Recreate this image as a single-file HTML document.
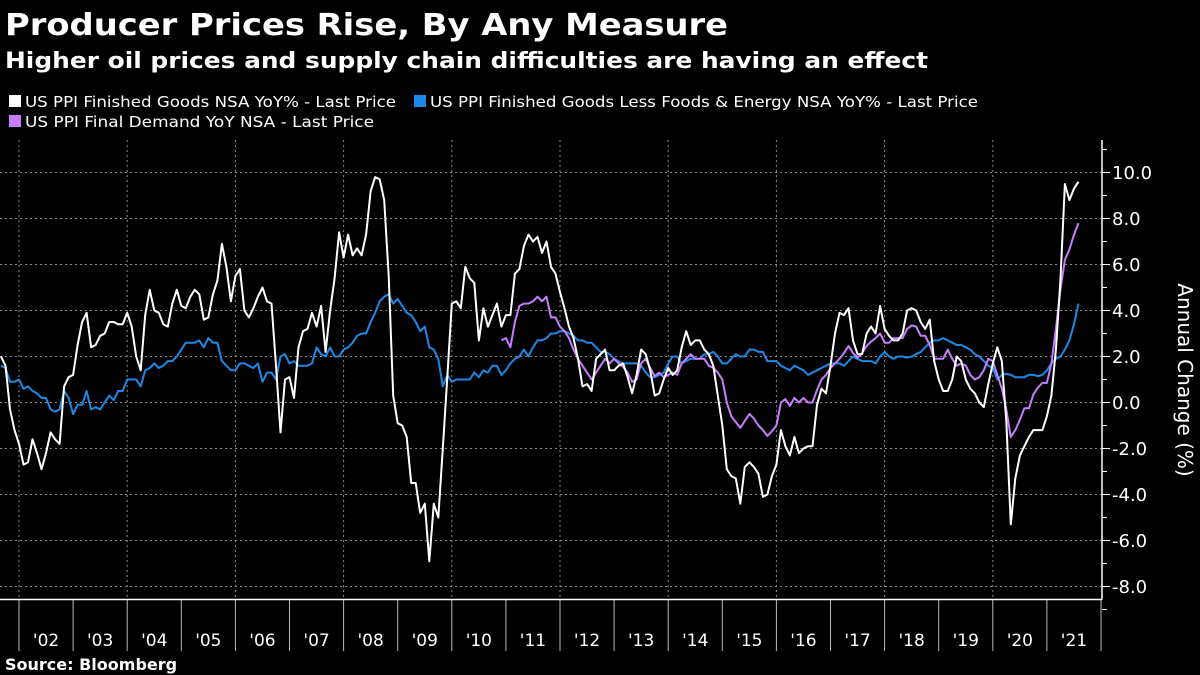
<!DOCTYPE html>
<html><head><meta charset="utf-8"><style>
html,body{margin:0;padding:0;background:#000;}
svg{display:block;font-family:"DejaVu Sans","Liberation Sans",sans-serif;}
</style></head><body>
<svg id="chart" width="1200" height="675" viewBox="0 0 1200 675" xmlns="http://www.w3.org/2000/svg">
<rect width="1200" height="675" fill="#000"/>
<text x="5" y="35" fill="#fff" font-weight="bold" font-size="30" textLength="723" lengthAdjust="spacingAndGlyphs">Producer Prices Rise, By Any Measure</text>
<text x="5" y="68" fill="#fff" font-weight="bold" font-size="22" textLength="923" lengthAdjust="spacingAndGlyphs">Higher oil prices and supply chain difficulties are having an effect</text>
<g>
<g><rect x="9" y="95" width="12" height="12" fill="#fff"/><text x="25" y="107" fill="#fff" font-size="15.5" textLength="371" lengthAdjust="spacingAndGlyphs">US PPI Finished Goods NSA YoY% - Last Price</text></g>
<g><rect x="414" y="95" width="12" height="12" fill="#1e88e5"/><text x="430" y="107" fill="#fff" font-size="15.5" textLength="548" lengthAdjust="spacingAndGlyphs">US PPI Finished Goods Less Foods &amp; Energy NSA YoY% - Last Price</text></g>
<g><rect x="9" y="115" width="12" height="12" fill="#c77dff"/><text x="25" y="127" fill="#fff" font-size="15.5" textLength="349" lengthAdjust="spacingAndGlyphs">US PPI Final Demand YoY NSA - Last Price</text></g>
</g>
<g id="grid"></g>
<g id="axes"></g>
<g id="series"></g>
<text transform="translate(1178,380) rotate(90)" fill="#fff" font-size="20" text-anchor="middle">Annual Change (%)</text>
<text x="5" y="670" fill="#fff" font-weight="bold" font-size="16">Source: Bloomberg</text>
</svg>
<script>
const startYear = 2001, startMonth = 8; // Aug 2001
const finishedGoods = [
2.0,1.6,-0.3,-1.2,-1.8,
-2.7,-2.6,-1.6,-2.2,-2.9,-2.2,-1.3,-1.6,-1.8,0.7,1.1,1.2,
2.5,3.5,3.9,2.4,2.5,2.9,3.0,3.5,3.5,3.4,3.4,3.9,
3.3,2.0,1.4,3.8,4.9,4.0,3.9,3.4,3.3,4.3,4.9,4.2,
4.1,4.6,4.9,4.7,3.6,3.7,4.7,5.3,6.9,5.9,4.4,5.5,
5.8,4.0,3.7,4.1,4.6,5.0,4.4,4.3,1.6,-1.3,1.0,1.1,
0.2,2.4,3.1,3.2,3.9,3.3,4.2,2.2,4.0,5.4,7.4,6.3,
7.3,6.4,6.7,6.4,7.3,9.2,9.8,9.7,8.8,5.5,0.3,-0.9,
-1.0,-1.5,-3.5,-3.5,-4.8,-4.4,-6.9,-4.4,-5.0,-2.0,1.1,4.3,
4.4,4.1,5.9,5.4,5.2,2.7,4.1,3.3,3.8,4.3,3.3,3.8,
3.8,5.6,5.8,6.8,7.3,7.0,7.2,6.5,7.0,5.9,5.6,4.8,
4.1,3.3,2.8,1.9,0.7,0.8,0.5,1.9,2.1,2.3,1.4,1.4,
1.6,1.7,1.1,0.4,1.2,2.3,2.1,1.4,0.3,0.4,1.0,1.5,
1.2,1.4,2.4,3.1,2.5,2.7,2.7,2.3,2.1,1.6,0.3,-1.0,
-2.9,-3.2,-3.3,-4.4,-2.8,-2.6,-2.8,-3.1,-4.1,-4.0,-3.2,-2.7,
-1.2,-1.9,-2.3,-1.5,-2.2,-2.0,-1.9,-1.9,-0.1,0.6,0.4,1.6,
3.0,3.9,3.8,4.1,2.7,2.1,2.1,3.0,3.3,3.0,4.2,3.2,
2.9,2.7,2.7,3.0,4.0,4.1,4.0,3.5,3.2,3.6,1.8,1.0,
0.5,0.5,1.0,2.0,1.8,1.0,0.6,0.4,0.0,-0.2,0.8,1.7,
2.4,1.8,-0.8,-5.3,-3.3,-2.3,-1.9,-1.5,-1.2,-1.2,-1.2,-0.6,
0.3,2.3,5.3,9.5,8.8,9.3,9.6];
const coreFinishedGoods = [
1.6,1.5,0.9,0.9,1.0,
0.6,0.7,0.5,0.4,0.2,0.2,-0.3,-0.4,-0.3,0.5,0.2,-0.5,
-0.1,-0.1,0.5,-0.3,-0.2,-0.3,0.0,0.3,0.1,0.5,0.5,1.0,
1.0,1.0,0.7,1.4,1.5,1.7,1.5,1.6,1.8,1.8,2.0,2.3,
2.6,2.6,2.6,2.7,2.4,2.8,2.6,2.6,1.8,1.6,1.4,1.4,
1.7,1.7,1.6,1.5,1.7,0.9,1.3,1.3,1.0,2.0,2.1,1.7,
1.8,1.6,1.6,1.6,1.7,2.4,2.1,2.0,2.4,2.0,2.0,2.3,
2.4,2.6,2.9,3.0,3.0,3.5,3.9,4.4,4.6,4.7,4.3,4.5,
4.2,3.9,3.8,3.5,3.1,3.3,2.4,2.3,1.9,0.7,1.2,0.9,
1.0,1.0,1.0,1.0,1.3,1.1,1.4,1.3,1.6,1.6,1.2,1.4,
1.7,1.9,2.0,2.3,2.0,2.4,2.7,2.7,2.8,3.0,3.0,3.1,
3.1,3.0,2.9,2.7,2.7,2.6,2.6,2.4,2.2,2.2,2.1,1.9,
1.8,1.7,1.7,1.7,1.7,1.6,1.3,1.1,1.1,1.2,1.3,1.7,
2.0,2.0,1.7,1.8,1.9,1.9,1.9,2.1,2.1,2.2,2.0,1.7,
1.7,1.9,2.1,2.0,2.0,2.3,2.3,2.2,2.2,1.8,1.8,1.8,
1.6,1.5,1.4,1.6,1.5,1.4,1.2,1.3,1.4,1.5,1.6,1.7,
1.7,1.7,1.6,1.8,2.0,1.9,1.8,1.8,1.8,1.7,2.0,2.2,
2.0,1.9,2.0,2.0,1.95,2.0,2.1,2.2,2.4,2.6,2.7,2.7,
2.8,2.7,2.6,2.5,2.5,2.4,2.3,2.1,2.0,1.8,1.6,1.5,
1.0,1.2,1.25,1.2,1.1,1.1,1.1,1.2,1.2,1.15,1.2,1.4,
1.7,1.9,2.0,2.3,2.7,3.4,4.3];
const finalDemandStartYear = 2010, finalDemandStartMonth = 11;
const finalDemand = [
2.7,2.8,
2.4,3.5,4.2,4.3,4.3,4.4,4.6,4.4,4.6,3.7,3.7,3.3,
3.1,2.8,2.3,1.9,1.6,1.3,1.0,1.3,1.6,1.9,1.7,1.9,
1.7,1.55,1.3,0.9,1.0,1.7,1.9,1.5,1.15,1.3,1.1,1.2,
1.3,1.2,1.7,1.9,2.1,1.9,1.9,1.9,1.6,1.5,1.3,1.0,
0.0,-0.6,-0.85,-1.1,-0.8,-0.5,-0.7,-1.0,-1.2,-1.45,-1.25,-1.0,
0.0,0.15,-0.15,0.2,0.0,0.2,0.0,0.0,0.55,1.0,1.2,1.5,
1.7,1.9,2.15,2.45,2.15,1.95,2.15,2.45,2.65,2.8,3.0,2.6,
2.6,2.8,2.8,2.8,3.2,3.35,3.3,2.9,2.9,2.5,1.9,1.9,
1.9,2.3,1.9,1.6,1.7,1.6,1.2,1.0,1.1,1.4,1.9,1.8,
1.2,0.6,-0.3,-1.5,-1.2,-0.75,-0.25,-0.25,0.35,0.65,0.85,0.85,
1.7,3.2,4.9,6.2,6.65,7.3,7.8];
const yTicks = [10,8,6,4,2,0,-2,-4,-6,-8];
const yearLabels = ["'02","'03","'04","'05","'06","'07","'08","'09","'10","'11","'12","'13","'14","'15","'16","'17","'18","'19","'20","'21"];
const firstLabelYear = 2002;

const NS = "http://www.w3.org/2000/svg";
const X0 = 19, PXY = 54.1, AXIS_X = 1102, PLOT_TOP = 140, AXIS_Y = 599.5;
function xScale(t){ return X0 + (t - 2002) * PXY; }
function yScale(v){ return 402.5 - v * 23.0; }
function monthT(y, m){ return y + m / 12; } // month-end
function mk(tag, attrs, parent){ const e = document.createElementNS(NS, tag); for (const k in attrs) e.setAttribute(k, attrs[k]); parent.appendChild(e); return e; }

const grid = document.getElementById('grid'), axes = document.getElementById('axes'), series = document.getElementById('series');
// horizontal gridlines + y labels
yTicks.forEach(v => {
  const y = yScale(v);
  const gl = mk('line', {x1:0, x2:AXIS_X, y1:y, y2:y, stroke:'#8a8a8a', 'stroke-width':1, 'stroke-dasharray':'2,3'}, grid);
  
  
  mk('line', {x1:AXIS_X, x2:AXIS_X+8, y1:y, y2:y, stroke:'#fff', 'stroke-width':1}, axes);
  const tx = mk('text', {x:AXIS_X+10, y:y+6.5, fill:'#fff', 'font-size':18}, axes);
  tx.textContent = v.toFixed(1);
  
  
});
for (let v = -9; v <= 11; v += 2) {
  const y = yScale(v);
  if (y < PLOT_TOP) continue;
  mk('line', {x1:AXIS_X, x2:AXIS_X+5, y1:y, y2:y, stroke:'#fff', 'stroke-width':1}, axes);
}
// vertical gridlines every 2 years, year ticks & labels
yearLabels.forEach((lab, i) => {
  const yr = firstLabelYear + i;
  const x = xScale(yr);
  if ((yr - 2002) % 2 === 0) {
    const vg = mk('line', {x1:x, x2:x, y1:PLOT_TOP, y2:AXIS_Y, stroke:'#8a8a8a', 'stroke-width':1, 'stroke-dasharray':'2,3'}, grid);
    
    
  }
  mk('line', {x1:x, x2:x, y1:AXIS_Y, y2:651, stroke:'#bbb', 'stroke-width':1}, axes);
  const tx = mk('text', {x:xScale(yr + 0.5), y:646, fill:'#fff', 'font-size':17, 'text-anchor':'middle'}, axes);
  tx.textContent = lab;
  
  
});
mk('line', {x1:xScale(2022), x2:xScale(2022), y1:AXIS_Y, y2:651, stroke:'#bbb', 'stroke-width':1}, axes);
mk('line', {x1:0, x2:AXIS_X, y1:AXIS_Y, y2:AXIS_Y, stroke:'#fff', 'stroke-width':1.5}, axes);
mk('line', {x1:AXIS_X, x2:AXIS_X, y1:PLOT_TOP, y2:AXIS_Y, stroke:'#fff', 'stroke-width':1.5}, axes);

function drawLine(vals, sy, sm, color, name){
  const pts = vals.map((v, i) => {
    const m = sm - 1 + i;
    const t = monthT(sy + Math.floor(m / 12), (m % 12) + 1);
    return xScale(t).toFixed(1) + ',' + yScale(v).toFixed(1);
  });
  const p = mk('polyline', {points:pts.join(' '), fill:'none', stroke:color, 'stroke-width':2, 'stroke-linejoin':'round'}, series);
  
  
}
drawLine(coreFinishedGoods, startYear, startMonth, '#1e88e5', 'core-finished-goods-line');
drawLine(finalDemand, finalDemandStartYear, finalDemandStartMonth, '#c77dff', 'final-demand-line');
drawLine(finishedGoods, startYear, startMonth, '#ffffff', 'finished-goods-line');
</script>
</body></html>
